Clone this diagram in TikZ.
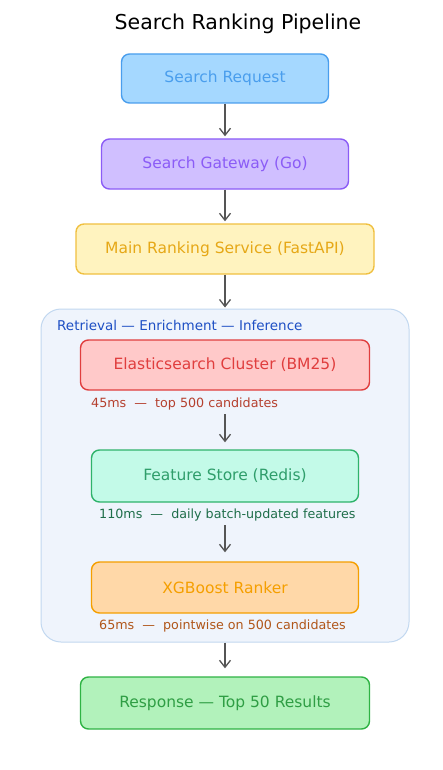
\documentclass[tikz,border=0pt]{standalone}
\usepackage{fontspec}
\setmainfont{DejaVu Sans}
\usetikzlibrary{arrows.meta}
\definecolor{bfill}{HTML}{A5D8FF}\definecolor{bline}{HTML}{4A9EED}
\definecolor{pfill}{HTML}{D0BFFF}\definecolor{pline}{HTML}{8B5CF6}
\definecolor{yfill}{HTML}{FFF3BF}\definecolor{yline}{HTML}{F0C040}\definecolor{ytext}{HTML}{E6A817}
\definecolor{rfill}{HTML}{FFC9C9}\definecolor{rline}{HTML}{E03E3E}
\definecolor{tfill}{HTML}{C3FAE8}\definecolor{tline}{HTML}{2FB36B}\definecolor{ttext}{HTML}{2F9E6B}
\definecolor{ofill}{HTML}{FFD8A8}\definecolor{oline}{HTML}{F59F00}
\definecolor{gfill}{HTML}{B2F2BB}\definecolor{gline}{HTML}{2FB344}\definecolor{gtext}{HTML}{2F9E44}
\definecolor{grpfill}{HTML}{EFF4FC}\definecolor{grpline}{HTML}{C2D8F0}
\definecolor{grptext}{HTML}{1E4FC4}
\definecolor{lred}{HTML}{B5402F}\definecolor{lgreen}{HTML}{1F6E4A}\definecolor{lbrown}{HTML}{B0561A}
\definecolor{arr}{HTML}{555555}
\begin{document}
\begin{tikzpicture}[x=1pt,y=-1pt,
  box/.style={draw, rounded corners=8pt, line width=1.4pt, inner sep=0pt, font=\fontsize{15.5}{18}\selectfont},
  note/.style={anchor=west, inner sep=0pt, font=\fontsize{12.7}{15}\selectfont},
  flow/.style={draw=arr, line width=1.3pt, -{Straight Barb[length=7pt,width=11pt]}}]
\useasboundingbox (0,0) rectangle (442,770);
\fill[white] (0,0) rectangle (442,770);
\node[font=\fontsize{20.5}{24}\selectfont] (title) at (238,24) {Search Ranking Pipeline};
\node[box, fill=bfill, draw=bline, text=bline, minimum width=207pt, minimum height=49pt] (req) at (225,78.5) {Search Request};
\node[box, fill=pfill, draw=pline, text=pline, minimum width=247pt, minimum height=50pt] (gw) at (225,164) {Search Gateway (Go)};
\node[box, fill=yfill, draw=yline, text=ytext, minimum width=298pt, minimum height=50pt] (main) at (225,249) {Main Ranking Service (FastAPI)};
\node[draw=grpline, fill=grpfill, line width=1pt, rounded corners=20pt, minimum width=368pt, minimum height=333pt, inner sep=0pt] (grp) at (225,475.5) {};
\node[note, text=grptext, font=\fontsize{13.5}{15}\selectfont] (grplbl) at (57,325) {Retrieval — Enrichment — Inference};
\node[box, fill=rfill, draw=rline, text=rline, minimum width=289pt, minimum height=50pt] (es) at (225,365) {Elasticsearch Cluster (BM25)};
\node[note, text=lred] (l1) at (91,404) {45ms \ — \ top 500 candidates};
\node[box, fill=tfill, draw=tline, text=ttext, minimum width=267pt, minimum height=52pt] (fs) at (225,476) {Feature Store (Redis)};
\node[note, text=lgreen] (l2) at (99,515) {110ms \ — \ daily batch-updated features};
\node[box, fill=ofill, draw=oline, text=oline, minimum width=267pt, minimum height=51pt] (xg) at (225,587.5) {XGBoost Ranker};
\node[note, text=lbrown] (l3) at (99,626) {65ms \ — \ pointwise on 500 candidates};
\node[box, fill=gfill, draw=gline, text=gtext, minimum width=289pt, minimum height=52pt] (resp) at (225,703) {Response — Top 50 Results};
\draw[flow, shorten >=2pt] (req.south) -- (gw.north);
\draw[flow, shorten >=2pt] (gw.south) -- (main.north);
\draw[flow, shorten >=1pt] (main.south) -- (grp.north);
\draw[flow, shorten <=4pt, shorten >=7pt] (es.south |- l1.south) -- (fs.north);
\draw[flow, shorten <=4pt, shorten >=9pt] (fs.south |- l2.south) -- (xg.north);
\draw[flow, shorten >=8pt] (grp.south) -- (resp.north);
\end{tikzpicture}
\end{document}
